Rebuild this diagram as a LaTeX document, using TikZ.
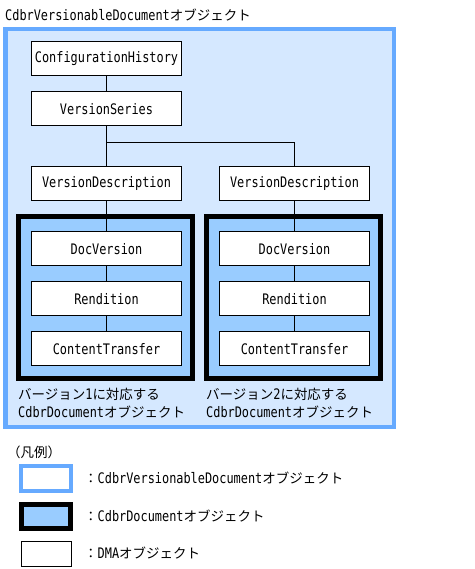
\documentclass[tikz,border=0pt]{standalone}
\usepackage{fontspec}
\setmainfont[FakeStretch=0.82]{DejaVu Sans Mono}
\newfontfamily\jp[Scale=0.93]{Noto Sans CJK JP}
\usetikzlibrary{calc}

\definecolor{bordoblu}{HTML}{66AAFF}
\definecolor{sfondoblu}{HTML}{D5E8FF}
\definecolor{docblu}{HTML}{99CCFF}

\begin{document}
\begin{tikzpicture}[x=1pt,y=-1pt,
  every node/.style={font=\fontsize{14.5}{18}\selectfont},
  dma/.style={draw, fill=white, line width=1pt, minimum width=150pt, minimum height=34pt, inner sep=0pt},
  versionabile/.style={draw=bordoblu, line width=4.5pt},
  documento/.style={draw=black, fill=docblu, line width=5pt},
  testo/.style={anchor=west, align=left, inner sep=0pt}]

\useasboundingbox (0,0) rectangle (474,569);

\def\colonna(#1,#2){ % nome della colonna e x del centro
%Il contenitore CdbrDocument
\draw[documento] (#2-88,216.5) rectangle (#2+86,378.2);
%I tre oggetti dentro
\node[dma] (vd#1) at (#2,183.5) {VersionDescription};
\node[dma] (dv#1) at (#2,248.8) {DocVersion};
\node[dma] (re#1) at (#2,298.8) {Rendition};
\node[dma] (ct#1) at (#2,348.8) {ContentTransfer};
%Le linee tra gli oggetti
\draw[line width=1pt] (vd#1) -- (dv#1);
\draw[line width=1pt] (dv#1) -- (re#1);
\draw[line width=1pt] (re#1) -- (ct#1);
}

%Il contenitore CdbrVersionableDocument
\node[testo] (titolo) at (5,15) {CdbrVersionableDocument{\jp オブジェクト}};
\draw[versionabile, fill=sfondoblu] (5.25,29.25) rectangle (394,427);

%Le due colonne
\colonna(1,106.5)
\colonna(2,294.5)

%Gli oggetti in alto
\node[dma] (ch) at (106.5,58.8) {ConfigurationHistory};
\node[dma] (vs) at (106.5,108.8) {VersionSeries};
\coordinate (ramo) at (106.5,142.7);

%Le linee in alto
\draw[line width=1pt] (ch) -- (vs);
\draw[line width=1pt] (vs) -- (vd1);
\draw[line width=1pt] (ramo) -| (vd2);

%Le scritte sotto le colonne
\node[testo] (ver1) at (18,403) {{\jp バージョン}1{\jp に対応する}\\CdbrDocument{\jp オブジェクト}};
\node[testo] (ver2) at (206,403) {{\jp バージョン}2{\jp に対応する}\\CdbrDocument{\jp オブジェクト}};

%La legenda
\node[testo] (legenda) at (7,452.7) {\jp （凡例）};
\draw[versionabile, fill=white] (21.2,466.2) rectangle (71.2,491.2);
\draw[documento] (21.5,504.5) rectangle (70.5,528.2);
\draw[line width=1pt] (21.5,541.8) rectangle (71.2,566.2);
\node[testo] (leg1) at (84,478.5) {{\jp ：}CdbrVersionableDocument{\jp オブジェクト}};
\node[testo] (leg2) at (84,516.3) {{\jp ：}CdbrDocument{\jp オブジェクト}};
\node[testo] (leg3) at (84,553.5) {{\jp ：}DMA{\jp オブジェクト}};

\end{tikzpicture}
\end{document}
